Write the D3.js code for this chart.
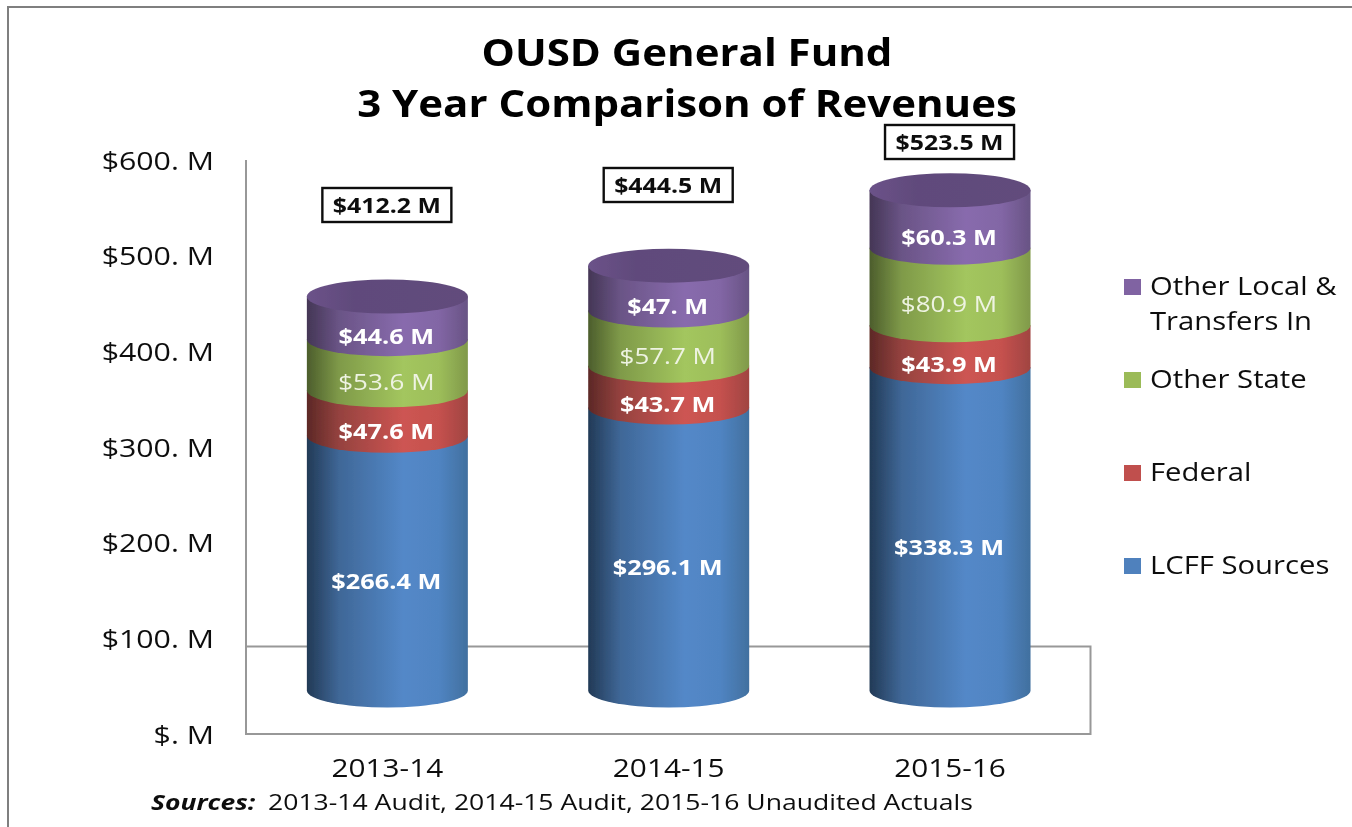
<!DOCTYPE html>
<html><head><meta charset="utf-8">
<script src="https://cdnjs.cloudflare.com/ajax/libs/d3/7.8.5/d3.min.js"></script>
<style>html,body{margin:0;padding:0;background:#fff}svg{display:block}text{font-family:"Open Sans",sans-serif}</style>
</head><body><svg id="c" width="1352" height="827"></svg>
<script>
const years = ["2013-14","2014-15","2015-16"];
const seriesNames = ["LCFF Sources","Federal","Other State","Other Local & Transfers In"];
const lcff = [266.4,296.1,338.3];
const federal = [47.6,43.7,43.9];
const otherState = [53.6,57.7,80.9];
const otherLocal = [44.6,47,60.3];
const totals = [412.2,444.5,523.5];
const yTicks = [0,100,200,300,400,500,600];
const titleLines = ["OUSD General Fund","3 Year Comparison of Revenues"];

const money = v => "$" + (v===0 ? "." : (Number.isInteger(v) ? v+"." : v));
const svg = d3.select("#c");
const defs = svg.append("defs");
const blur = defs.append("filter").attr("id","soft").attr("x","-5%").attr("y","-5%").attr("width","110%").attr("height","110%");
blur.append("feGaussianBlur").attr("stdDeviation",0.45);
const root = svg.append("g").attr("filter","url(#soft)");

function stretch(sel, f){
  sel.each(function(){
    const n = this.getComputedTextLength();
    d3.select(this).attr("textLength",n*f).attr("lengthAdjust","spacingAndGlyphs");
  });
  return sel;
}

const palettes = [
 {id:"g0",swatch:"#4f81bd",stops:["#223a56","#3f6797","#5388c8","#5084c2","#41709f"]},
 {id:"g1",swatch:"#c0504d",stops:["#5c2826","#95423f","#cd5552","#c5514e","#a04441"]},
 {id:"g2",swatch:"#9bbb59",stops:["#4c5d2c","#7f9a49","#a3c65e","#9dbe5a","#80994a"]},
 {id:"g3",swatch:"#8064a2",stops:["#443655","#6a5486","#886bad","#8266a5","#685384"]}
];
palettes.forEach(p=>{
  const g = defs.append("linearGradient").attr("id",p.id);
  [0,0.2,0.6,0.82,1].forEach((o,i)=>g.append("stop").attr("offset",o).attr("stop-color",p.stops[i]));
});
const capG = defs.append("linearGradient").attr("id","cap");
[["0","#6b5289"],["0.3","#604a7b"],["1","#624c7c"]].forEach(s=>capG.append("stop").attr("offset",s[0]).attr("stop-color",s[1]));

root.append("path").attr("d","M8,827V7H1352").attr("fill","none").attr("stroke","#7f7f7f").attr("stroke-width",2);

const x = d3.scaleBand().domain(years).range([246.7,1090.7]);
const axisY = d3.scaleLinear().domain([0,600]).range([734,160]);
const barY = d3.scaleLinear().domain([0,600]).range([690.5,117]);
const rx = 80.5, ry = 17;
const cx = d => x(d)+x.bandwidth()/2;

root.append("path").attr("d",`M246,${axisY(600)}V${axisY(0)}H1090.5V646.5H246`).attr("fill","none").attr("stroke","#989898").attr("stroke-width",2);

const yLab = d3.axisLeft(axisY).tickValues(yTicks).tickSize(0).tickFormat(v=>money(v)+" M");
const ya = root.append("g").attr("transform","translate(214,0)").call(yLab);
ya.select(".domain").remove();
stretch(ya.selectAll("text").attr("x",0).attr("dy","0.35em").attr("font-size",26).attr("fill","#111").style("font-family",'"Open Sans",sans-serif'),1.165);

const xa = root.append("g").attr("transform","translate(0,768)").call(d3.axisBottom(x).tickSize(0).tickPadding(0));
xa.select(".domain").remove();
stretch(xa.selectAll("text").attr("y",0).attr("dy","0.35em").attr("font-size",26).attr("fill","#111").style("font-family",'"Open Sans",sans-serif'),1.145);

const stacks = [lcff,federal,otherState,otherLocal];
years.forEach((yr,i)=>{
  let base = 0;
  const g = root.append("g");
  const c = cx(yr);
  stacks.forEach((arr,s)=>{
    const top = base+arr[i], y0 = barY(base), y1 = barY(top);
    g.append("path")
      .attr("d",`M${c-rx},${y1}V${y0}A${rx},${ry} 0 0 0 ${c+rx},${y0}V${y1}Z`)
      .attr("fill",`url(#${palettes[s].id})`);
    base = top;
  });
  g.append("ellipse").attr("cx",c).attr("cy",barY(base)).attr("rx",rx).attr("ry",ry).attr("fill","url(#cap)");
  base = 0;
  stacks.forEach((arr,s)=>{
    const mid = base+arr[i]/2;
    const isGreen = s===2;
    stretch(g.append("text").attr("x",c-1).attr("y",barY(mid)+ry+1).attr("dy","0.35em").attr("text-anchor","middle")
      .attr("font-size",22).attr("font-weight",isGreen?400:700).attr("fill",isGreen?"#eef3e2":"#fff")
      .text(money(arr[i])+" M"),isGreen?1.18:1.15);
    base += arr[i];
  });
});

const totalBoxCentreY = [205,185,142];
years.forEach((yr,i)=>{
  const c = cx(yr)-0.5, w=129, h=34;
  root.append("rect").attr("x",c-w/2).attr("y",totalBoxCentreY[i]-h/2).attr("width",w).attr("height",h)
    .attr("fill","#fff").attr("stroke","#111").attr("stroke-width",2.4);
  stretch(root.append("text").attr("x",c).attr("y",totalBoxCentreY[i]).attr("dy","0.35em").attr("text-anchor","middle")
    .attr("font-size",22).attr("font-weight",700).attr("fill","#111").text("$"+totals[i]+" M"),1.13);
});

titleLines.forEach((t,i)=>{
  stretch(root.append("text").attr("x",687).attr("y",[53,104][i]).attr("dy","0.35em").attr("text-anchor","middle")
    .attr("font-size",38).attr("font-weight",700).attr("fill","#000").text(t),1.105);
});

const legendY = [287,380,473,566];
const legendLines = [["LCFF Sources"],["Federal"],["Other State"],["Other Local &","Transfers In"]];
seriesNames.forEach((n,s)=>{
  const ly = legendY[3-s];
  root.append("rect").attr("x",1124).attr("y",ly-8).attr("width",17).attr("height",16).attr("fill",palettes[s].swatch);
  legendLines[s].forEach((t,k)=>{
    stretch(root.append("text").attr("x",1150).attr("y",ly-1+k*35).attr("dy","0.35em").attr("font-size",26).attr("fill","#111").text(t),1.125);
  });
});

stretch(root.append("text").attr("x",151).attr("y",803).attr("dy","0.35em").attr("font-size",21).attr("font-weight",700).attr("font-style","italic").attr("fill","#111").text("Sources:"),1.26);
stretch(root.append("text").attr("x",268).attr("y",803).attr("dy","0.35em").attr("font-size",21).attr("fill","#111").text("2013-14 Audit, 2014-15 Audit, 2015-16 Unaudited Actuals"),1.265);
</script></body></html>
